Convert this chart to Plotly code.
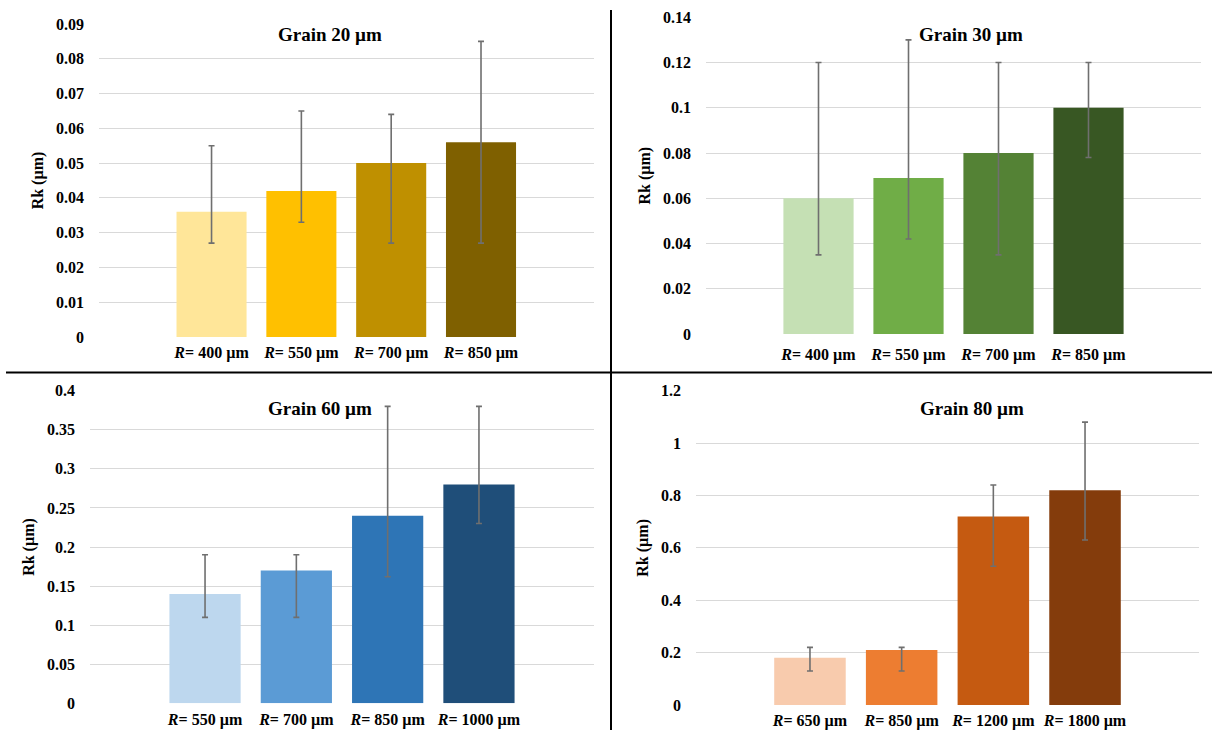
import plotly.graph_objects as go

W, H = 1212, 730

# ---------------- data ----------------
titles = ["Grain 20 µm", "Grain 30 µm", "Grain 60 µm", "Grain 80 µm"]

radii_20 = ["400", "550", "700", "850"]
rk_20 = [0.036, 0.042, 0.050, 0.056]
rk_20_hi = [0.055, 0.065, 0.064, 0.085]
rk_20_lo = [0.027, 0.033, 0.027, 0.027]

radii_30 = ["400", "550", "700", "850"]
rk_30 = [0.060, 0.069, 0.080, 0.100]
rk_30_hi = [0.120, 0.130, 0.120, 0.120]
rk_30_lo = [0.035, 0.042, 0.035, 0.078]

radii_60 = ["550", "700", "850", "1000"]
rk_60 = [0.14, 0.17, 0.24, 0.28]
rk_60_hi = [0.19, 0.19, 0.38, 0.38]
rk_60_lo = [0.11, 0.11, 0.162, 0.23]

radii_80 = ["650", "850", "1200", "1800"]
rk_80 = [0.18, 0.21, 0.72, 0.82]
rk_80_hi = [0.22, 0.22, 0.84, 1.08]
rk_80_lo = [0.13, 0.13, 0.53, 0.63]

colors_20 = ["#FFE699", "#FFC000", "#BF9000", "#7F6000"]
colors_30 = ["#C5E0B4", "#70AD47", "#548235", "#385723"]
colors_60 = ["#BDD7EE", "#5B9BD5", "#2E75B6", "#1F4E79"]
colors_80 = ["#F8CBAD", "#ED7D31", "#C55A11", "#843C0C"]

y_max = [0.09, 0.14, 0.4, 1.2]
y_step = [0.01, 0.02, 0.05, 0.2]

# ---------------- layout geometry (pixels) ----------------
boxes = [(99, 594, 24, 337), (706, 1201, 17.3, 334),
         (90, 594, 390.7, 703.3), (696, 1199, 390.7, 705)]
x_ranges = [[-1.253, 4.258], [-1.25, 4.25], [-1.26, 4.26], [-1.243, 4.243]]
x_label_gap = [4, 9, 5, 4]
title_pos = [(330, 35), (971, 35), (320, 408), (972, 408)]

panels = [
    (radii_20, rk_20, rk_20_hi, rk_20_lo, colors_20),
    (radii_30, rk_30, rk_30_hi, rk_30_lo, colors_30),
    (radii_60, rk_60, rk_60_hi, rk_60_lo, colors_60),
    (radii_80, rk_80, rk_80_hi, rk_80_lo, colors_80),
]

FONT = "Liberation Serif, DejaVu Serif, serif"
fig = go.Figure()
layout = dict(
    template="none",
    width=W, height=H, margin=dict(l=0, r=0, t=0, b=0, pad=0),
    paper_bgcolor="white", plot_bgcolor="white", showlegend=False,
    font=dict(family=FONT, color="#000000"),
    annotations=[], shapes=[],
)

for i, (radii, vals, hi, lo, cols) in enumerate(panels):
    n = i + 1
    xa = "x" if n == 1 else f"x{n}"
    ya = "y" if n == 1 else f"y{n}"
    cats = [f"R= {r} µm" for r in radii]
    labels = [f"<i>R</i>= {r} µm" for r in radii]
    plus = [h - v for h, v in zip(hi, vals)]
    minus = [v - l for v, l in zip(vals, lo)]
    fig.add_trace(go.Bar(
        x=cats, y=vals, width=0.78,
        marker=dict(color=cols, line=dict(width=0)),
        error_y=dict(type="data", array=plus, arrayminus=minus,
                     color="#6f6f6f", thickness=1.6, width=3),
        xaxis=xa, yaxis=ya, hoverinfo="skip",
    ))
    l, r, t, b = boxes[i]
    layout["xaxis" if n == 1 else f"xaxis{n}"] = dict(
        domain=[l / W, r / W], anchor=ya, type="category",
        categoryorder="array", categoryarray=cats,
        range=x_ranges[i], tickvals=cats, ticktext=labels,
        showgrid=False, showline=False, ticks="", zeroline=False,
        automargin=False, ticklabelstandoff=x_label_gap[i],
        tickfont=dict(family=FONT, size=16, color="#000000", weight="bold"),
        fixedrange=True,
    )
    layout["yaxis" if n == 1 else f"yaxis{n}"] = dict(
        domain=[1 - b / H, 1 - t / H], anchor=xa,
        range=[0, y_max[i]], dtick=y_step[i], tick0=0,
        showgrid=True, gridcolor="#d9d9d9", gridwidth=1,
        zeroline=False, showline=False, ticks="",
        ticklabelstandoff=14, automargin=False,
        tickfont=dict(family=FONT, size=16, color="#000000", weight="bold"),
        title=dict(text="Rk (µm)", standoff=8,
                   font=dict(family=FONT, size=16, color="#000000", weight="bold")),
        fixedrange=True,
    )
    tx, ty = title_pos[i]
    layout["annotations"].append(dict(
        text=titles[i], x=tx / W, y=1 - ty / H,
        xref="paper", yref="paper", showarrow=False,
        xanchor="center", yanchor="middle",
        font=dict(family=FONT, size=19, color="#000000", weight="bold"),
    ))

# divider lines
layout["shapes"].append(dict(type="line", xref="paper", yref="paper",
                             x0=611 / W, x1=611 / W, y0=1 - 10 / H, y1=0,
                             line=dict(color="black", width=2)))
layout["shapes"].append(dict(type="line", xref="paper", yref="paper",
                             x0=6 / W, x1=1, y0=1 - 372.5 / H, y1=1 - 372.5 / H,
                             line=dict(color="black", width=2)))

fig.update_layout(**layout)
fig.write_html(
    "out.html",
    config={"displayModeBar": False, "staticPlot": True},
    post_script="document.body.style.margin='0';document.body.style.padding='0';"
                "document.body.style.overflow='hidden';",
)
